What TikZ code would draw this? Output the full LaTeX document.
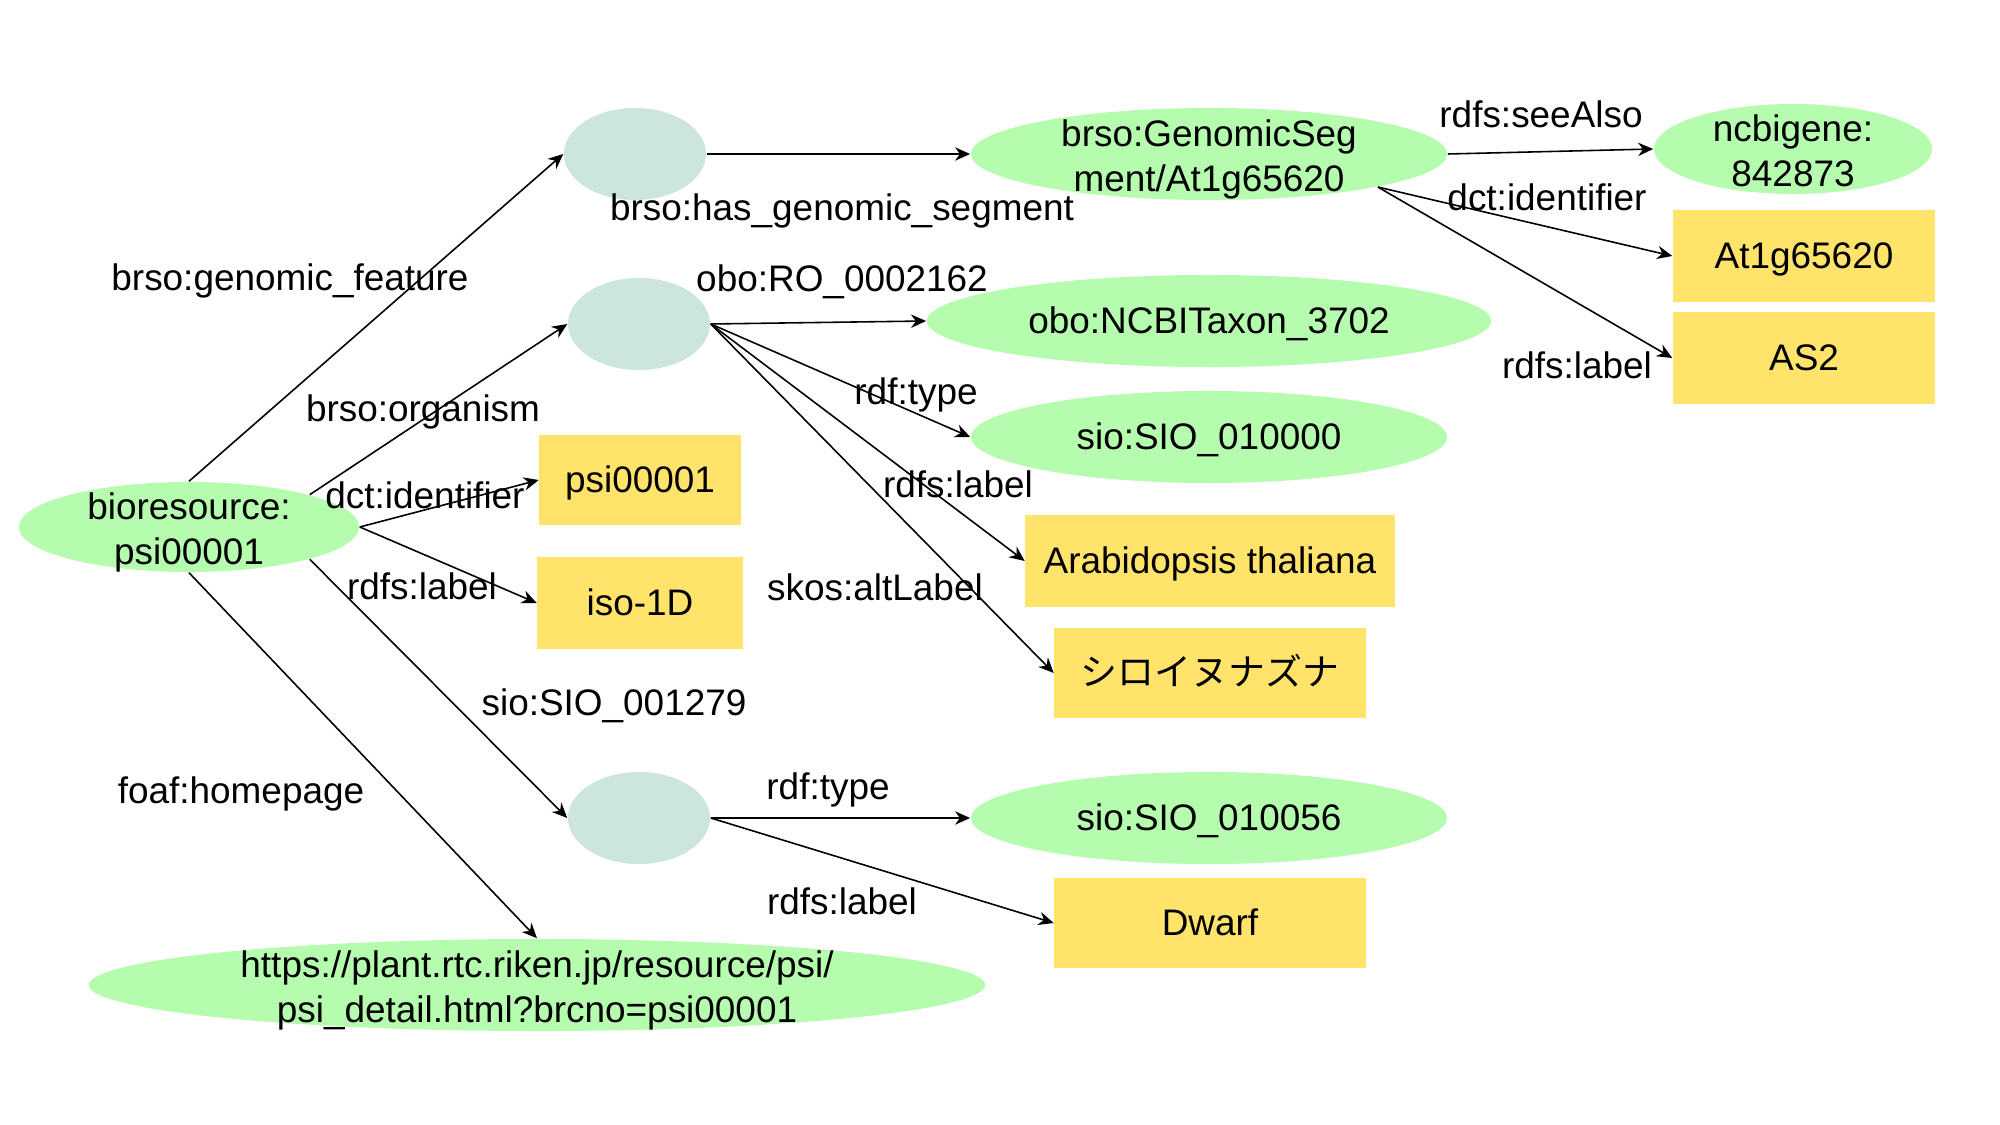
\documentclass[tikz,border=0pt]{standalone}
\usepackage{fontspec}
\setmainfont{Liberation Sans}
\newfontfamily\jpfont{Noto Sans CJK JP}
\usetikzlibrary{arrows.meta,shapes.geometric}
\definecolor{litgreen}{RGB}{181,252,175}
\definecolor{boxyellow}{RGB}{255,227,106}
\definecolor{blanknode}{RGB}{204,230,221}
\newcommand{\pstr}{\rule[-2.23pt]{0pt}{11.73pt}}
\newcommand{\tstr}{\rule{0pt}{10.6pt}}
\begin{document}
\begin{tikzpicture}[x=0.01cm,y=-0.01cm,
  every node/.style={font=\fontsize{10.5}{12.8}\selectfont, inner sep=0pt,
    execute at begin node=\pstr, execute at end node=\pstr},
  res/.style={ellipse, fill=litgreen, align=center, inner xsep=0pt, inner ysep=-6pt},
  lit/.style={rectangle, fill=boxyellow},
  bnode/.style={ellipse, fill=blanknode, minimum width=1.42cm, minimum height=0.92cm},
  edge/.style={draw=black, line width=0.45pt, -{Stealth[length=4.3pt,width=3.8pt]}},
  lbl/.style={}
]
\path[use as bounding box] (0,0) rectangle (2000,1125);

% resources
\node[res, minimum width=3.40cm, minimum height=0.90cm] (bio) at (189,527) {\tstr bioresource:\\psi00001};
\node[bnode] (b1) at (635,154) {};
\node[res, minimum width=4.76cm, minimum height=0.92cm] (gen) at (1209,154) {\tstr brso:GenomicSeg\\ment/At1g65620};
\node[res, minimum width=2.78cm, minimum height=0.90cm] (ncbi) at (1793,149) {\tstr ncbigene:\\842873};
\node[bnode] (b2) at (639,324) {};
\node[res, minimum width=5.64cm, minimum height=0.92cm] (taxon) at (1209,321) {obo:NCBITaxon\_3702};
\node[res, minimum width=4.76cm, minimum height=0.92cm] (sioa) at (1209,437) {sio:SIO\_010000};
\node[bnode] (b3) at (639,818) {};
\node[res, minimum width=4.76cm, minimum height=0.92cm] (siob) at (1209,818) {sio:SIO\_010056};
\node[res, minimum width=8.96cm, minimum height=0.92cm] (url) at (537,985) {\tstr https://plant.rtc.riken.jp/resource/psi/\\psi\_detail.html?brcno=psi00001};

% literals
\node[lit, minimum width=2.01cm, minimum height=0.90cm] (psi) at (640,480) {psi00001};
\node[lit, minimum width=2.05cm, minimum height=0.91cm] (iso) at (640,603) {iso-1D};
\node[lit, minimum width=2.62cm, minimum height=0.92cm] (atg) at (1804,256) {At1g65620};
\node[lit, minimum width=2.62cm, minimum height=0.92cm] (as2) at (1804,358) {AS2};
\node[lit, minimum width=3.69cm, minimum height=0.91cm] (arab) at (1210,561) {Arabidopsis thaliana};
\node[lit, minimum width=3.11cm, minimum height=0.90cm] (jp) at (1210,673) {\jpfont シロイヌナズナ};
\node[lit, minimum width=3.11cm, minimum height=0.90cm] (dwarf) at (1210,923) {Dwarf};

% edges
\draw[edge] (bio.north) -- (b1.west);
\draw[edge] (b1.east) -- (gen.west);
\draw[edge] (gen.east) -- (ncbi.west);
\draw[edge] (gen.south east) -- (atg.west);
\draw[edge] (gen.south east) -- (as2.west);
\draw[edge] (bio.north east) -- (b2.west);
\draw[edge] (bio.east) -- (psi.west);
\draw[edge] (bio.east) -- (iso.west);
\draw[edge] (bio.south east) -- (b3.west);
\draw[edge] (bio.south) -- (url.north);
\draw[edge] (b2.east) -- (taxon.west);
\draw[edge] (b2.east) -- (sioa.west);
\draw[edge] (b2.east) -- (arab.west);
\draw[edge] (b2.east) -- (jp.west);
\draw[edge] (b3.east) -- (siob.west);
\draw[edge] (b3.east) -- (dwarf.west);

% edge labels
\node[lbl] (l1) at (290,278) {brso:genomic\_feature};
\node[lbl] (l2) at (842,208) {brso:has\_genomic\_segment};
\node[lbl] (l3) at (1541,115) {rdfs:seeAlso};
\node[lbl] (l4) at (1547,198) {dct:identifier};
\node[lbl] (l5) at (1577,366) {rdfs:label};
\node[lbl] (l6) at (423,409) {brso:organism};
\node[lbl] (l7) at (425,496) {dct:identifier};
\node[lbl] (l8) at (422,587) {rdfs:label};
\node[lbl] (l9) at (614,703) {sio:SIO\_001279};
\node[lbl] (l10) at (241,791) {foaf:homepage};
\node[lbl] (l11) at (842,279) {obo:RO\_0002162};
\node[lbl] (l12) at (916,392) {rdf:type};
\node[lbl] (l13) at (958,485) {rdfs:label};
\node[lbl] (l14) at (875,588) {skos:altLabel};
\node[lbl] (l15) at (828,787) {rdf:type};
\node[lbl] (l16) at (842,902) {rdfs:label};
\end{tikzpicture}
\end{document}
